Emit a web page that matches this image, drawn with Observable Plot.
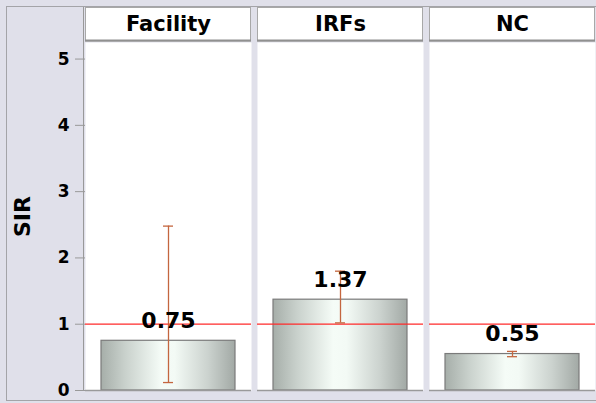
<!DOCTYPE html>
<html><head><meta charset="utf-8">
<script src="https://cdn.jsdelivr.net/npm/d3@7"></script>
<script src="https://cdn.jsdelivr.net/npm/@observablehq/plot@0.6"></script>
<style>
html,body{margin:0;padding:0;background:#e0e0ea;}
svg{display:block;}
</style></head><body><div id="chart"></div>
<script>
const categories = ["Facility", "IRFs", "NC"];
const sir = [0.75, 1.37, 0.55];
const lower = [0.12, 1.02, 0.51];
const upper = [2.48, 1.80, 0.59];
const yTicks = [0, 1, 2, 3, 4, 5];
const reference = [1];
const BAND = "SIR";

const data = categories.map((c, i) => ({cat: c, sir: sir[i], lo: lower[i], hi: upper[i], band: BAND}));

const W = 596, H = 403, MT = 42, MB = 13, ML = 84;
const ebColor = "#c4663f";
const plot = Plot.plot({
  width: W, height: H, marginLeft: ML, marginRight: 0, marginTop: MT, marginBottom: MB,
  style: {background: "#e0e0ea", fontFamily: "DejaVu Sans", color: "black", overflow: "visible"},
  fx: {domain: categories, paddingInner: 0.035, paddingOuter: 0, label: null},
  x: {domain: [BAND], paddingInner: 0, paddingOuter: 0.1185, axis: null},
  y: {domain: [0, 5.25], label: "SIR"},
  marks: [
    Plot.frame({fill: "white", stroke: null}),
    Plot.barY(data, {fx: "cat", x: "band", y: "sir", fill: "url(#barGrad)", stroke: "#7a7a7a", strokeWidth: 1.2}),
    Plot.ruleY(reference, {stroke: "#ff2a2a", strokeWidth: 1.2}),
    Plot.ruleX(data, {fx: "cat", x: "band", y1: "lo", y2: "hi", stroke: ebColor, strokeWidth: 1.3}),
    Plot.tickY(data, {fx: "cat", x: "band", y: "lo", stroke: ebColor, strokeWidth: 1.3, insetLeft: 62, insetRight: 62}),
    Plot.tickY(data, {fx: "cat", x: "band", y: "hi", stroke: ebColor, strokeWidth: 1.3, insetLeft: 62, insetRight: 62}),
    Plot.text(data, {fx: "cat", x: "band", y: "sir", text: d => d.sir.toFixed(2), dy: -13, lineAnchor: "bottom", fontSize: 22, fontWeight: "bold", fill: "black"}),
    Plot.ruleY([0], {stroke: "#9a9a9a", strokeWidth: 1.5}),
    Plot.axisY({ticks: yTicks, tickFormat: d3.format("d"), tickSize: 10, tickPadding: 6, fontSize: 17, fontWeight: "bold", label: "SIR", labelAnchor: "center", labelArrow: "none", labelOffset: 71, stroke: "#999", fill: "black"}),
    Plot.axisFx({anchor: "top", tickSize: 0, tickPadding: 12, fontSize: 21, fontWeight: "bold", label: null, fill: "black"})
  ]
});

const svg = d3.select(plot);
svg.selectAll('g[aria-label="y-axis label"]').attr("font-size", 22).attr("font-weight", "bold");
const defs = svg.insert("defs", ":first-child");
const g = defs.append("linearGradient").attr("id", "barGrad").attr("x1", "0%").attr("x2", "100%").attr("y1", "0%").attr("y2", "0%");
[[0, "#a6aea9"], [0.18, "#c9d1cc"], [0.45, "#f5fcf7"], [0.55, "#f3faf5"], [0.8, "#cbd2ce"], [1, "#a2a9a5"]]
  .forEach(([o, c]) => g.append("stop").attr("offset", o).attr("stop-color", c));

const fx = plot.scale("fx");
const deco = svg.insert("g", "defs + *");
deco.append("rect").attr("x", 6.5).attr("y", 6.5).attr("width", W).attr("height", H - 9)
  .attr("fill", "none").attr("stroke", "#a4a4a8");
const headerH = 35;
for (const c of categories) {
  const x0 = fx.apply(c);
  deco.append("rect").attr("x", x0 + 0.5).attr("y", MT - headerH + 0.5).attr("width", fx.bandwidth - 1).attr("height", headerH - 1.5)
    .attr("fill", "white").attr("stroke", "#a8a8a8");
  deco.append("line").attr("x1", x0).attr("x2", x0 + fx.bandwidth).attr("y1", MT - 1.5).attr("y2", MT - 1.5)
    .attr("stroke", "#909090").attr("stroke-width", 2);
}
svg.append("line").attr("x1", ML - 0.5).attr("x2", ML - 0.5).attr("y1", MT - headerH).attr("y2", H - MB)
  .attr("stroke", "#999").attr("stroke-width", 1);

document.getElementById("chart").appendChild(plot);
</script></body></html>
